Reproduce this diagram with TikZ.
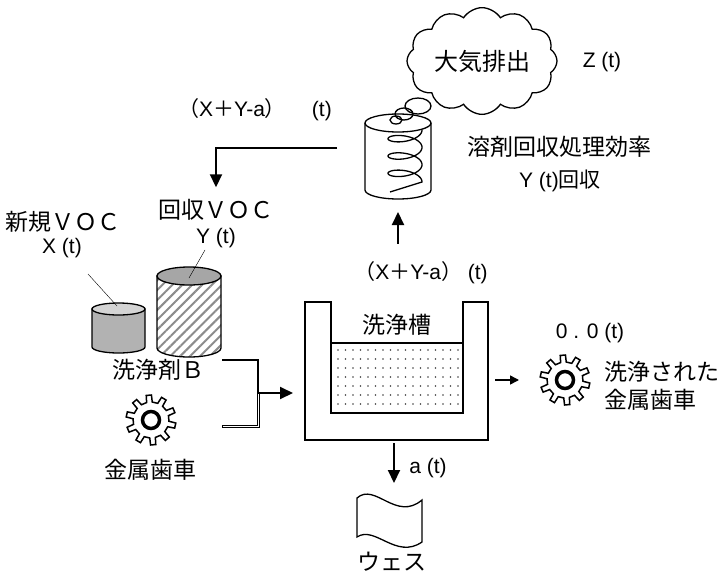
\documentclass[tikz,border=0pt]{standalone}
\usepackage{fontspec}
\setmainfont{Liberation Sans}
\newfontfamily\jp{Noto Sans CJK JP}
\usetikzlibrary{positioning,arrows.meta,shapes.symbols,patterns.meta}

\begin{document}
\begin{tikzpicture}[x=1pt,y=-1pt,
		jtext/.style={font=\jp\fontsize{23}{28}\selectfont, inner sep=0pt},
		ltext/.style={font=\fontsize{21}{25}\selectfont, inner sep=0pt},
		outline/.style={line width=1.3pt},
		flow/.style={line width=2pt, -{Triangle[length=13pt,width=12pt]}},
		flowsm/.style={line width=1.5pt, -{Triangle[length=9pt,width=9pt]}},
		wall/.style={line width=1.5pt},
		gear/.pic={
			\draw[line width=1.5pt] (4:18) \foreach \a in {0,36,...,324}{ -- (\a+7:25) -- (\a+19:25) -- (\a+22:18) arc[start angle=\a+22, end angle=\a+40, radius=18]} -- cycle;
			\draw[line width=3.5pt] (0,0) circle[radius=8.5];
		},
	]
	\useasboundingbox (0,0) rectangle (721,576);

	% recovery unit with coil
	\draw[outline] (365,123) -- (365,190) arc[start angle=180, end angle=0, x radius=33, y radius=9] -- (431,123);
	\draw[outline] (398,123) ellipse[x radius=33, y radius=9];
	\draw[outline] plot[domain=0:1080, samples=160, smooth] ({405+17*cos(\x)}, {130+\x/1080*52+7*sin(\x)}) -- (390,192);
	\coordinate (recbot) at (398,212);
	\coordinate (fb) at (337,148);

	% exhaust cloud and bubbles
	\draw[outline] (418,106) ellipse[x radius=13, y radius=8];
	\draw[outline] (404,114) ellipse[x radius=9, y radius=6];
	\draw[outline] (396,120) ellipse[x radius=6, y radius=4];
	\node[cloud, draw, outline, fill=white, cloud puffs=12, cloud puff arc=115, aspect=1.5,
		minimum width=150pt, minimum height=104pt, inner sep=0pt, jtext, font=\jp\fontsize{24}{28}\selectfont] (air) at (482,61) {大気排出};
	\node[ltext] (zt) at (602,62) {Z (t)};

	% labels
	\node[jtext] (eff) at (559,147) {溶剤回収処理効率};
	\node[ltext] (effy) at (560,181) {Y (t){\jp 回収}};
	\node[ltext] (back) at (255,110) {{\jp （}X{\jp ＋}Y-a{\jp ）}\hspace{26pt}(t)};
	\node[ltext] (feed) at (421,273) {{\jp （}X{\jp ＋}Y-a{\jp ）} (t)};

	% solvent drums
	\node[jtext] (newvoc) at (63,222) {新規ＶＯＣ};
	\node[ltext] (newx) at (62,248) {X (t)};
	\node[jtext] (recvoc) at (216,210) {回収ＶＯＣ};
	\node[ltext] (recy) at (216,238) {Y (t)};

	\draw[outline, fill=black!30] (92,309) -- (92,347) arc[start angle=180, end angle=0, x radius=26.5, y radius=6] -- (145,309) -- cycle;
	\draw[outline, fill=black!17] (118.5,309) ellipse[x radius=26.5, y radius=6];
	\coordinate (newtop) at (117,306);

	\draw[outline, pattern={Lines[angle=45, distance=7pt, line width=2pt]}, pattern color=black!45]
		(157,276) -- (157,348) arc[start angle=180, end angle=0, x radius=32, y radius=9] -- (221,276) -- cycle;
	\draw[outline, fill=black!35] (189,276) ellipse[x radius=32, y radius=9];
	\coordinate (rectop) at (189,278);

	\coordinate (newlead) at (88,274);
	\draw (newlead) -- (newtop);
	\draw ([xshift=-11pt,yshift=-2pt]recy.south) -- (rectop);

	\node[jtext] (det) at (158,370) {洗浄剤Ｂ};
	\pic at (151,420) {gear};
	\coordinate (gearL) at (151,420);
	\node[jtext] (parts) at (150,470) {金属歯車};

	% cleaning tank
	\draw[wall] (305,302) -- (331,302) -- (331,413) -- (463,413) -- (463,302) -- (488,302) -- (488,440) -- (305,440) -- cycle;
	\draw[outline] (331,343) -- (463,343);
	\foreach \i in {0,...,16}
		\foreach \j in {0,...,6}
			\fill[black!75] (338+\i*7.5, 350+\j*9) circle[radius=0.9];
	\node[jtext] (tank) at (397,325) {洗浄槽};
	\coordinate (tankin) at (293,393);
	\coordinate (tankout) at (495,380);
	\coordinate (tankbot) at (394,443);

	% outputs
	\pic at (565,380) {gear};
	\coordinate (gearR) at (565,380);
	\node[ltext] (zero) at (590,333) {0 . 0 (t)};
	\node[jtext, anchor=west, align=left] (clean) at (604,386) {洗浄された\\金属歯車};

	\draw[outline] (357,498) .. controls (375,482) and (396,522) .. (422,500) -- (422,542)
		.. controls (396,560) and (375,525) .. (357,537) -- cycle;
	\coordinate (wastetop) at (394,483);
	\node[jtext] (waste) at (392,562) {ウェス};
	\node[ltext] (at) at (428,468) {a (t)};

	% lines
	\coordinate (detout) at (222,360);
	\coordinate (gearout) at (222,426);
	\coordinate (merge) at (258,393);
	\draw[line width=2pt] (detout) -| (merge);
	\draw[line width=3pt] (gearout) -| (merge);
	\draw[line width=1pt, white] ([xshift=1pt]gearout) -| ([yshift=-1pt]merge);
	\draw[flow] (merge) -- (tankin);
	\draw[flow] (fb) -| ([yshift=12pt]recvoc.north);
	\draw[flow] ([yshift=18pt]feed.north -| recbot) -- (recbot);
	\draw[flowsm] (tankout) -- ([xshift=-46pt]gearR);
	\draw[flow] (tankbot) -- (wastetop);
\end{tikzpicture}
\end{document}
